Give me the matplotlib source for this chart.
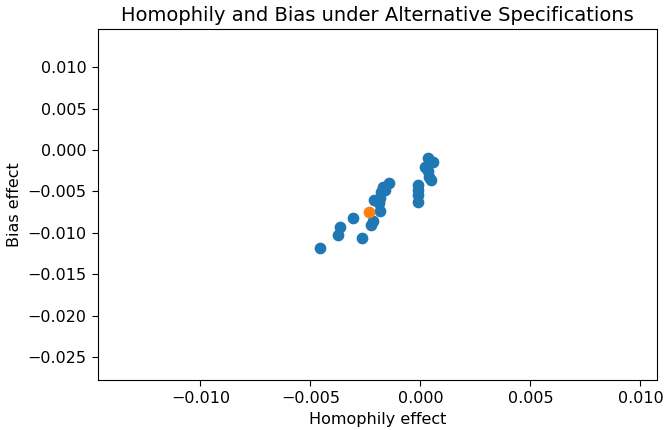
import matplotlib
matplotlib.use("Agg")
import matplotlib.pyplot as plt

homophily = [-0.00458, -0.00377, -0.00368, -0.00307, -0.00268, -0.00216, -0.00224,
             -0.00213, -0.00183, -0.00189, -0.00186, -0.00178, -0.00171, -0.00159,
             -0.00144, -0.00009, -0.00009, -0.00009, -0.00009, 0.00036, 0.00056,
             0.00021, 0.00033, 0.00041, 0.00049]
bias = [-0.01182, -0.01025, -0.00935, -0.00817, -0.01058, -0.00853, -0.00905,
        -0.00603, -0.00732, -0.00643, -0.00583, -0.00503, -0.00450, -0.00483,
        -0.00402, -0.00422, -0.00483, -0.00543, -0.00624, -0.00100, -0.00141,
        -0.00201, -0.00250, -0.00329, -0.00362]
main_h = [-0.00235]
main_b = [-0.00752]

fig = plt.figure(figsize=(6.67, 4.30), dpi=100)
ax = fig.add_axes([97.7/667, 1 - 380/430, (657-97.7)/667, (380-29)/430])
ax.scatter(homophily, bias, s=55, color="#1f77b4", zorder=2)
ax.scatter(main_h, main_b, s=55, color="#ff7f0e", zorder=3)
ax.set_xlim(-0.01467, 0.01075)
ax.set_ylim(-0.02775, 0.0146)
ax.set_xticks([-0.010, -0.005, 0.0, 0.005, 0.010])
ax.set_yticks([0.010, 0.005, 0.0, -0.005, -0.010, -0.015, -0.020, -0.025])
ax.tick_params(labelsize=11.5, length=4.5)
ax.set_xlabel("Homophily effect", fontsize=11.5)
ax.set_ylabel("Bias effect", fontsize=11.5)
ax.set_title("Homophily and Bias under Alternative Specifications", fontsize=14)
fig.savefig("out.png", dpi=100)
